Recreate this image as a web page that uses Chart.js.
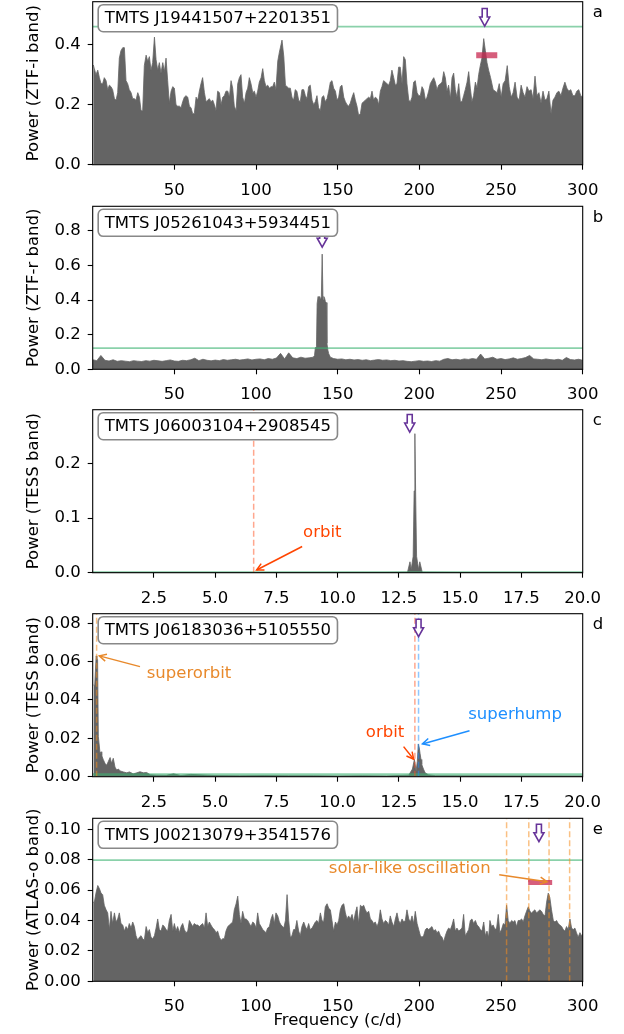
<!DOCTYPE html>
<html><head><meta charset="utf-8">
<script src="https://cdn.jsdelivr.net/npm/chart.js@4.4.0/dist/chart.umd.min.js"></script>
<style>
html,body{margin:0;padding:0;background:#fff;}
#wrap{position:relative;width:624px;height:1034px;overflow:hidden;}
canvas{position:absolute;left:0;}
</style></head><body><div id="wrap">
<canvas id="ca" width="624" height="204" style="top:0px"></canvas>
<canvas id="cb" width="624" height="204" style="top:204px"></canvas>
<canvas id="cc" width="624" height="204" style="top:408px"></canvas>
<canvas id="cd" width="624" height="204" style="top:612px"></canvas>
<canvas id="ce" width="624" height="238" style="top:796px"></canvas>
</div>
<script>
// ---------------- DATA ----------------
const names = ['TMTS J19441507+2201351','TMTS J05261043+5934451','TMTS J06003104+2908545','TMTS J06183036+5105550','TMTS J00213079+3541576'];
const yTitles = ['Power (ZTF-i band)','Power (ZTF-r band)','Power (TESS band)','Power (TESS band)','Power (ATLAS-o band)'];
const letters = ['a','b','c','d','e'];
const xTitle = 'Frequency (c/d)';

const xTicksWide = [50,100,150,200,250,300];
const xTicksNarrow = [2.5,5,7.5,10,12.5,15,17.5,20];
const yTicksA = [0,0.2,0.4];
const yTicksB = [0,0.2,0.4,0.6,0.8];
const yTicksC = [0,0.1,0.2];
const yTicksD = [0,0.02,0.04,0.06,0.08];
const yTicksE = [0,0.02,0.04,0.06,0.08,0.10];

const thresholds = [0.46, 0.122, 0.0008, 0.0012, 0.0797];
const markers = [[240,0.462],[140.5,0.705],[12.94,0.258],[13.3,0.073],[273.2,0.0918]];
const rangeA = [234.8, 247.7, 0.365];
const rangeE = [266.6, 281.3, 0.065];
const orbitC = [6.57];
const superorbitD = [0.16];
const orbitD = [13.15];
const superhumpD = [13.3];
const oscE = [253.4, 267.0, 279.4, 292.0];

// [frequency (c/d), power]
const specA = [[0.4,.332],[1,.32],[2,.30],[3.1,.315],[4.1,.29],[5.1,.27],[6.1,.27],[7.1,.29],[8.2,.28],[9.2,.25],[10.2,.265],[11.2,.26],[12.2,.25],[13.3,.22],[14.3,.215],[15.3,.24],[16.3,.355],[17.3,.38],[18.4,.39],[19.4,.39],[20.4,.28],[21.4,.27],[22.4,.25],[23.5,.24],[24.5,.22],[25.5,.22],[26.5,.215],[27.6,.24],[28.6,.225],[29.6,.18],[30.6,.18],[31.6,.33],[32.7,.365],[33.7,.345],[34.7,.36],[35.7,.315],[36.7,.34],[37.8,.425],[38.8,.35],[39.8,.315],[40.8,.34],[41.8,.305],[42.9,.34],[43.9,.31],[44.9,.355],[45.9,.28],[46.9,.205],[48,.245],[49,.26],[50,.255],[51,.2],[52,.195],[53.1,.195],[54.1,.19],[55.1,.21],[56.1,.225],[57.1,.23],[58.2,.225],[59.2,.195],[60.2,.19],[61.2,.17],[62.2,.17],[63.3,.225],[64.3,.215],[65.3,.245],[66.3,.27],[67.3,.29],[68.4,.24],[69.4,.21],[70.4,.215],[71.4,.22],[72.4,.21],[73.5,.215],[74.5,.2],[75.5,.18],[76.5,.245],[77.6,.24],[78.6,.2],[79.6,.225],[80.6,.23],[81.6,.245],[82.7,.245],[83.7,.225],[84.7,.28],[85.7,.255],[86.7,.195],[87.8,.18],[88.8,.27],[89.8,.29],[90.8,.3],[91.8,.225],[92.9,.205],[93.9,.24],[94.9,.255],[95.9,.29],[96.9,.27],[98,.24],[99,.245],[100,.225],[101,.245],[102,.275],[103.1,.29],[104.1,.32],[105.1,.28],[106.1,.26],[107.1,.265],[108.2,.255],[109.2,.26],[110.2,.26],[111.2,.275],[112.2,.25],[113.3,.345],[114.3,.375],[115.3,.40],[115.9,.415],[117,.36],[118,.265],[119,.26],[120,.255],[121,.255],[122,.225],[123,.215],[124,.25],[125,.245],[126.1,.215],[127.1,.21],[128.1,.25],[129.2,.25],[130.2,.23],[131.2,.22],[132.2,.26],[133.2,.265],[134.3,.215],[135.3,.2],[136.3,.21],[137.3,.23],[138.3,.19],[139.4,.18],[140.4,.225],[141.4,.23],[142.4,.21],[143.5,.22],[144.5,.245],[145.5,.275],[146.5,.28],[147.5,.255],[148.6,.245],[149.6,.215],[150.6,.225],[151.6,.26],[152.6,.265],[153.7,.225],[154.7,.21],[155.7,.2],[156.7,.195],[157.7,.205],[158.8,.225],[159.8,.24],[160.8,.215],[161.8,.195],[162.8,.165],[163.9,.17],[164.9,.205],[165.9,.21],[166.9,.215],[167.9,.22],[169,.225],[170,.22],[171,.245],[172,.215],[173,.225],[174.1,.22],[175.1,.2],[176.1,.245],[177.1,.26],[178.1,.28],[179.2,.275],[180.2,.27],[181.2,.265],[182.2,.28],[183.2,.315],[184.3,.29],[185.3,.265],[186.3,.27],[187.3,.325],[188.3,.325],[189.4,.27],[190.4,.36],[191.4,.35],[192.4,.27],[193.5,.215],[194.5,.21],[195.5,.225],[196.5,.275],[197.5,.28],[198.6,.24],[199.6,.23],[200.6,.23],[201.6,.26],[202.6,.25],[203.7,.215],[204.7,.225],[205.7,.245],[206.7,.27],[207.7,.28],[208.8,.29],[209.8,.275],[210.8,.25],[211.8,.265],[212.9,.27],[213.9,.275],[214.9,.31],[215.9,.29],[216.9,.245],[217.9,.265],[219,.22],[220,.29],[221,.305],[222,.25],[223,.225],[224.1,.27],[225.1,.21],[226.1,.21],[227.1,.23],[228.1,.25],[229.2,.275],[230.2,.31],[231.2,.255],[232.2,.21],[233.2,.23],[234.3,.275],[235.3,.255],[236.3,.3],[237.3,.33],[238.3,.355],[239.4,.42],[240.4,.38],[241.4,.34],[242.4,.315],[243.6,.29],[245.2,.25],[247.6,.24],[248.9,.27],[250.1,.225],[251.3,.27],[252.5,.28],[253.8,.33],[255,.26],[256.2,.225],[257.4,.24],[258.6,.275],[259.8,.225],[261.1,.215],[262.3,.265],[263.5,.24],[264.7,.225],[265.9,.26],[267.1,.245],[268.4,.25],[269.6,.22],[270.8,.295],[272,.23],[273.2,.24],[274.5,.205],[275.7,.245],[276.9,.215],[278.1,.22],[279.3,.245],[280.6,.17],[281.8,.215],[283,.225],[284.2,.24],[285.4,.245],[286.7,.23],[287.9,.255],[289.1,.275],[290.3,.255],[291.5,.245],[292.7,.25],[294,.23],[295.2,.23],[296.4,.245],[297.6,.25],[298.8,.23],[300,.225]];

const specB = [[0,.055],[2.5,.05],[5,.08],[7.5,.052],[10,.048],[12.5,.055],[15,.046],[17.5,.05],[20,.047],[22.5,.044],[25,.05],[27.5,.047],[30,.045],[32.5,.05],[35,.047],[37.5,.052],[40,.049],[42.5,.046],[45,.05],[47.5,.054],[50,.048],[52.5,.046],[55,.052],[57.5,.05],[60,.055],[62.5,.064],[65,.05],[67.5,.058],[70,.052],[72.5,.049],[75,.053],[77.5,.05],[80,.056],[82.5,.052],[85,.055],[87.5,.058],[90,.053],[92.5,.056],[95,.06],[97.5,.054],[100,.058],[102.5,.06],[105,.055],[107.5,.062],[110,.058],[112.5,.065],[115,.092],[117.5,.06],[120,.095],[122.5,.066],[125,.062],[127.5,.07],[130,.064],[132.5,.066],[135,.07],[135.8,.08],[136.3,.125],[137,.13],[137.4,.38],[138,.42],[138.5,.39],[139,.42],[139.5,.40],[140,.42],[140.5,.665],[141,.40],[141.5,.42],[142,.41],[142.5,.39],[143,.385],[143.4,.15],[144,.11],[144.5,.09],[145.5,.07],[147.5,.062],[150,.058],[152.5,.06],[155,.055],[157.5,.058],[160,.054],[162.5,.056],[165,.052],[167.5,.055],[170,.05],[172.5,.053],[175,.056],[177.5,.052],[180,.054],[182.5,.05],[185,.052],[187.5,.048],[190,.05],[192.5,.046],[195,.044],[197.5,.047],[200,.05],[202.5,.046],[205,.048],[207.5,.045],[210,.05],[212.5,.047],[215,.058],[217.5,.062],[220,.055],[222.5,.058],[225,.054],[227.5,.06],[230,.057],[232.5,.062],[235,.058],[237.5,.088],[240,.06],[242.5,.064],[245,.07],[247.5,.058],[250,.062],[252.5,.056],[255,.06],[257.5,.066],[260,.058],[262.5,.062],[265,.068],[267.5,.08],[270,.06],[272.5,.058],[275,.055],[277.5,.06],[280,.056],[282.5,.054],[285,.058],[287.5,.052],[290,.068],[292.5,.056],[295,.054],[297.5,.058],[300,.052]];

const specC = [[0,.0005],[3,.0005],[6,.0005],[9,.0005],[12,.0006],[12.85,.001],[12.95,.02],[13.0,.006],[13.08,.03],[13.12,.15],[13.15,.255],[13.18,.15],[13.22,.03],[13.3,.006],[13.35,.02],[13.45,.001],[15,.0005],[20,.0005]];

const specD = [[0.05,.048],[0.08,.047],[0.11,.055],[0.14,.063],[0.17,.062],[0.2,.061],[0.23,.021],[0.27,.016],[0.3,.012],[0.34,.013],[0.37,.011],[0.43,.009],[0.5,.007],[0.57,.006],[0.64,.008],[0.71,.010],[0.77,.007],[0.84,.0096],[0.91,.005],[0.98,.0035],[1.05,.004],[1.12,.003],[1.25,.0025],[1.39,.002],[1.5,.0025],[1.65,.0015],[1.8,.002],[1.93,.0026],[2.07,.002],[2.2,.0022],[2.35,.001],[2.6,.0008],[3.0,.0007],[3.3,.0015],[3.6,.0006],[4.0,.0012],[5,.0006],[6,.0005],[7,.0006],[8,.0005],[9,.0005],[10,.0004],[11,.0005],[12,.0004],[12.9,.0008],[13.05,.004],[13.13,.009],[13.2,.003],[13.25,.008],[13.29,.017],[13.33,.015],[13.36,.0122],[13.4,.009],[13.43,.0064],[13.5,.004],[13.57,.002],[13.7,.001],[14,.0005],[20,.0004]];

const specE = [[0.4,.052],[1,.052],[2,.058],[3.1,.063],[4.1,.061],[5.1,.058],[6.1,.057],[7.1,.05],[8.2,.047],[9.2,.045],[10.2,.034],[11.2,.046],[12.2,.038],[13.3,.045],[14.3,.039],[15.3,.041],[16.3,.045],[17.3,.038],[18.4,.037],[19.4,.033],[20.4,.036],[21.4,.034],[22.4,.038],[23.5,.035],[24.5,.039],[25.5,.036],[26.5,.03],[27.6,.027],[28.6,.029],[29.6,.03],[30.6,.028],[31.6,.027],[32.7,.036],[33.7,.032],[34.7,.034],[35.7,.029],[36.7,.028],[37.8,.03],[38.8,.035],[39.8,.041],[40.8,.034],[41.8,.033],[42.9,.037],[43.9,.036],[44.9,.034],[45.9,.033],[46.9,.04],[48,.044],[49,.033],[50,.038],[51,.033],[52,.036],[53.1,.032],[54.1,.036],[55.1,.038],[56.1,.034],[57.1,.032],[58.2,.033],[59.2,.04],[60.2,.038],[61.2,.036],[62.2,.038],[63.3,.037],[64.3,.037],[65.3,.036],[66.3,.037],[67.3,.038],[68.4,.035],[69.4,.045],[70.4,.036],[71.4,.039],[72.4,.037],[73.5,.035],[74.5,.034],[75.5,.032],[76.5,.033],[77.6,.029],[78.6,.027],[79.6,.028],[80.6,.028],[81.6,.033],[82.7,.036],[83.7,.037],[84.7,.038],[85.7,.039],[86.7,.047],[87.8,.051],[88.8,.056],[89.8,.044],[90.8,.038],[91.8,.046],[92.9,.041],[93.9,.041],[94.9,.04],[95.9,.038],[96.9,.036],[98,.039],[99,.038],[100,.035],[101,.045],[102,.038],[103.1,.036],[104.1,.034],[105.1,.033],[106.1,.032],[107.1,.035],[108.2,.036],[109.2,.041],[110.2,.044],[111.2,.038],[112.2,.045],[113.3,.043],[114.3,.039],[115.3,.037],[116.3,.036],[117,.035],[118,.04],[119,.057],[120,.04],[121,.029],[122,.03],[123,.034],[124,.034],[125,.04],[126.1,.033],[127.1,.03],[128.1,.036],[129.2,.039],[130.2,.036],[131.2,.034],[132.2,.038],[133.2,.034],[134.3,.035],[135.3,.037],[136.3,.039],[137.3,.04],[138.3,.038],[139.4,.045],[140.4,.04],[141.4,.039],[142.4,.049],[143.5,.051],[144.5,.048],[145.5,.047],[146.5,.04],[147.5,.033],[148.6,.039],[149.6,.037],[150.6,.04],[151.6,.047],[152.6,.05],[153.7,.051],[154.7,.045],[155.7,.041],[156.7,.043],[157.7,.041],[158.8,.044],[159.8,.039],[160.8,.045],[161.8,.049],[162.8,.038],[163.9,.05],[164.9,.049],[165.9,.05],[166.9,.047],[167.9,.045],[169,.046],[170,.041],[171,.04],[172,.038],[173,.039],[174.1,.036],[175.1,.039],[176.1,.047],[177.1,.041],[178.1,.038],[179.2,.04],[180.2,.039],[181.2,.037],[182.2,.043],[183.2,.039],[184.3,.036],[185.3,.041],[186.3,.045],[187.3,.04],[188.3,.038],[189.4,.041],[190.4,.039],[191.4,.04],[192.4,.047],[193.5,.041],[194.5,.039],[195.5,.043],[196.5,.038],[197.5,.046],[198.6,.038],[199.6,.034],[200.6,.03],[201.6,.029],[202.6,.03],[203.7,.034],[204.7,.035],[205.7,.034],[206.7,.035],[207.7,.036],[208.8,.033],[209.8,.034],[210.8,.032],[211.8,.033],[212.9,.03],[213.9,.029],[214.9,.026],[215.9,.03],[216.9,.033],[217.9,.035],[219,.034],[220,.037],[221,.041],[222,.033],[223,.035],[224.1,.033],[225.1,.034],[226.1,.035],[227.1,.044],[228.1,.03],[229.2,.032],[230.2,.034],[231.2,.04],[232.2,.041],[233.2,.038],[234.3,.04],[235.3,.037],[236.3,.036],[237.3,.034],[238.3,.033],[239.4,.039],[240.4,.03],[241.4,.033],[242.4,.029],[243.2,.04],[244.2,.036],[245.2,.037],[246.3,.034],[247.3,.035],[248.3,.044],[249.3,.032],[250.3,.034],[251.4,.038],[252.4,.037],[253.4,.05],[254.4,.04],[255.4,.038],[256.5,.04],[257.5,.039],[258.5,.04],[259.5,.036],[260.5,.04],[261.6,.04],[262.6,.041],[263.6,.039],[264.6,.043],[265.6,.046],[266.7,.049],[267.7,.046],[268.7,.045],[269.7,.046],[270.7,.047],[271.8,.045],[272.8,.046],[273.8,.047],[274.8,.046],[275.8,.044],[276.9,.043],[277.9,.052],[278.9,.058],[279.9,.055],[280.9,.047],[282,.04],[283,.039],[284,.04],[285,.038],[286,.037],[287.1,.036],[288.1,.034],[289.1,.033],[290.1,.036],[291.1,.034],[292.2,.041],[293.2,.035],[294.2,.034],[295.2,.035],[296.2,.032],[297.2,.029],[298.3,.032],[299.3,.03],[300,.031]];

// ---------------- STYLE ----------------
const FONT_SIZE = 16.5;
const FONT = FONT_SIZE + "px 'DejaVu Sans'";
const GRAY = '#646464';
const GREEN = 'rgba(60,179,113,0.6)';
const RED = 'rgba(200,40,80,0.75)';
const SALMON = 'rgba(255,80,30,0.5)';
const ORANGE = 'rgba(245,140,30,0.55)';
const BLUE = 'rgba(30,144,255,0.5)';
const PURPLE = '#663399';
const ORANGERED = '#ff4500';
const ORANGE_TXT = '#e8892b';
const BLUE_TXT = '#1e8fff';

Chart.defaults.font.family = "'DejaVu Sans', sans-serif";
Chart.defaults.font.size = FONT_SIZE;
Chart.defaults.color = '#000';

function drawMarker(ctx, x, y) {
  ctx.beginPath();
  ctx.moveTo(x, y);
  ctx.lineTo(x - 5, y - 9);
  ctx.lineTo(x - 2.5, y - 9);
  ctx.lineTo(x - 2.5, y - 17.5);
  ctx.lineTo(x + 2.5, y - 17.5);
  ctx.lineTo(x + 2.5, y - 9);
  ctx.lineTo(x + 5, y - 9);
  ctx.closePath();
  ctx.fillStyle = '#fff'; ctx.fill();
  ctx.strokeStyle = PURPLE; ctx.lineWidth = 1.6; ctx.lineJoin = 'miter'; ctx.stroke();
}

const deco = {
  id: 'deco',
  afterDatasetsDraw(chart, args, o) {
    const ctx = chart.ctx, a = chart.chartArea, xs = chart.scales.x, ys = chart.scales.y;
    ctx.save();
    (o.annots || []).forEach(an => {
      ctx.font = FONT; ctx.fillStyle = an.color; ctx.textAlign = 'center'; ctx.textBaseline = 'middle';
      ctx.fillText(an.text, xs.getPixelForValue(an.tx), ys.getPixelForValue(an.ty));
      const x0 = xs.getPixelForValue(an.from[0]), y0 = ys.getPixelForValue(an.from[1]);
      const x1 = xs.getPixelForValue(an.tip[0]), y1 = ys.getPixelForValue(an.tip[1]);
      ctx.strokeStyle = an.color; ctx.lineWidth = 1.5; ctx.lineCap = 'butt';
      ctx.beginPath(); ctx.moveTo(x0, y0); ctx.lineTo(x1, y1); ctx.stroke();
      const ang = Math.atan2(y1 - y0, x1 - x0), hl = 7, hw = 3.6;
      const c = Math.cos(ang), s = Math.sin(ang);
      ctx.beginPath();
      ctx.moveTo(x1 - hl * c + hw * s, y1 - hl * s - hw * c);
      ctx.lineTo(x1, y1);
      ctx.lineTo(x1 - hl * c - hw * s, y1 - hl * s + hw * c);
      ctx.stroke();
    });
    if (o.marker) drawMarker(ctx, xs.getPixelForValue(o.marker[0]), ys.getPixelForValue(o.marker[1]));
    ctx.strokeStyle = '#000'; ctx.lineWidth = 1.1;
    ctx.strokeRect(a.left, a.top, a.right - a.left, a.bottom - a.top);
    ctx.font = FONT;
    const tw = ctx.measureText(o.name).width;
    const bx = a.left + 5.5, by = a.top + 3, bw = tw + 13, bh = 27, r = 5;
    ctx.beginPath();
    ctx.moveTo(bx + r, by); ctx.lineTo(bx + bw - r, by); ctx.arcTo(bx + bw, by, bx + bw, by + r, r);
    ctx.lineTo(bx + bw, by + bh - r); ctx.arcTo(bx + bw, by + bh, bx + bw - r, by + bh, r);
    ctx.lineTo(bx + r, by + bh); ctx.arcTo(bx, by + bh, bx, by + bh - r, r);
    ctx.lineTo(bx, by + r); ctx.arcTo(bx, by, bx + r, by, r); ctx.closePath();
    ctx.fillStyle = '#fff'; ctx.fill();
    ctx.strokeStyle = '#888'; ctx.lineWidth = 1.6; ctx.stroke();
    ctx.fillStyle = '#000'; ctx.textAlign = 'left'; ctx.textBaseline = 'alphabetic';
    ctx.fillText(o.name, bx + 6.5, by + 18.5);
    ctx.fillText(o.letter, a.right + 10, a.top + 15.5);
    ctx.restore();
  }
};

function zeroPad(s) { s.paddingLeft = 0; s.paddingRight = 0; s.paddingTop = 0; s.paddingBottom = 0; }

function panel(id, p) {
  const ds = [];
  ds.push({ data: p.spec.map(q => ({ x: q[0], y: q[1] })), borderColor: GRAY, backgroundColor: GRAY,
    borderWidth: 0.8, pointRadius: 0, fill: 'origin', tension: 0, order: 10 });
  ds.push({ data: [{ x: p.xMin, y: p.threshold }, { x: p.xMax, y: p.threshold }], borderColor: GREEN,
    borderWidth: p.thrWidth || 1.8, pointRadius: 0, fill: false, order: 5 });
  (p.vlines || []).forEach(v => ds.push({ data: [{ x: v.x, y: 0 }, { x: v.x, y: p.yMax }], borderColor: v.color,
    borderWidth: 1.5, borderDash: [6, 3], pointRadius: 0, fill: false, order: 3 }));
  if (p.range) ds.push({ data: [{ x: p.range[0], y: p.range[2] }, { x: p.range[1], y: p.range[2] }],
    borderColor: RED, borderWidth: p.rangeWidth || 6, borderCapStyle: 'butt', pointRadius: 0, fill: false, order: 2 });
  const tickGrid = { display: true, drawOnChartArea: false, drawTicks: true, tickLength: 5, tickColor: '#000', tickWidth: 1.1 };
  new Chart(document.getElementById(id), {
    type: 'line',
    data: { datasets: ds },
    plugins: [deco],
    options: {
      responsive: false, animation: false, devicePixelRatio: 1, events: [],
      layout: { padding: { left: 0, right: 41.3, top: p.padTop, bottom: 0 } },
      plugins: { legend: { display: false }, tooltip: { enabled: false },
        deco: { name: p.name, letter: p.letter, marker: p.marker, annots: p.annots } },
      scales: {
        x: { type: 'linear', min: p.xMin, max: p.xMax,
          afterBuildTicks: s => { s.ticks = p.xTicks.map(v => ({ value: v })); },
          afterFit: s => { s.height = p.xAxisH; zeroPad(s); },
          ticks: { callback: v => p.xDec ? v.toFixed(p.xDec) : String(v), maxRotation: 0, autoSkip: false, padding: 11, color: '#000', font: { size: FONT_SIZE } },
          grid: tickGrid, border: { display: false },
          title: p.xTitle ? { display: true, text: p.xTitle, color: '#000', font: { size: FONT_SIZE }, padding: { top: 0, bottom: 3 } } : { display: false }
        },
        y: { type: 'linear', min: 0, max: p.yMax,
          afterBuildTicks: s => { s.ticks = p.yTicks.map(v => ({ value: v })); },
          afterFit: s => { s.width = 92.7; zeroPad(s); },
          ticks: { callback: v => v.toFixed(p.yDec), padding: 7, color: '#000', font: { size: FONT_SIZE } },
          grid: tickGrid, border: { display: false },
          title: { display: true, text: p.yTitle, color: '#000', font: { size: FONT_SIZE }, padding: { top: 24, bottom: 0 } }
        }
      }
    }
  });
}

panel('ca', { spec: specA, name: names[0], letter: letters[0], yTitle: yTitles[0], xMin: 0, xMax: 300, yMax: 0.543,
  xTicks: xTicksWide, yTicks: yTicksA, yDec: 1, threshold: thresholds[0], marker: markers[0], range: rangeA,
  padTop: 1.7, xAxisH: 39.3 });

panel('cb', { spec: specB, name: names[1], letter: letters[1], yTitle: yTitles[1], xMin: 0, xMax: 300, yMax: 0.941,
  xTicks: xTicksWide, yTicks: yTicksB, yDec: 1, threshold: thresholds[1], marker: markers[1],
  padTop: 2.3, xAxisH: 38.7 });

panel('cc', { spec: specC, name: names[2], letter: letters[2], yTitle: yTitles[2], xMin: 0, xMax: 20, yMax: 0.299,
  xTicks: xTicksNarrow, xDec: 1, yTicks: yTicksC, yDec: 1, threshold: thresholds[2], marker: markers[2],
  vlines: orbitC.map(x => ({ x, color: SALMON })),
  annots: [{ text: 'orbit', color: ORANGERED, tx: 9.37, ty: 0.0725, from: [8.55, 0.048], tip: [6.69, 0.005] }],
  padTop: 1.7, xAxisH: 39.3 });

panel('cd', { spec: specD, name: names[3], letter: letters[3], yTitle: yTitles[3], xMin: 0, xMax: 20, yMax: 0.085,
  xTicks: xTicksNarrow, xDec: 1, yTicks: yTicksD, yDec: 2, threshold: thresholds[3], thrWidth: 2.5, marker: markers[3],
  vlines: [...superorbitD.map(x => ({ x, color: ORANGE })), ...orbitD.map(x => ({ x, color: SALMON })), ...superhumpD.map(x => ({ x, color: BLUE }))],
  annots: [
    { text: 'superorbit', color: ORANGE_TXT, tx: 3.93, ty: 0.0536, from: [1.93, 0.0574], tip: [0.27, 0.063] },
    { text: 'orbit', color: ORANGERED, tx: 11.93, ty: 0.0231, from: [12.69, 0.0157], tip: [13.1, 0.0091] },
    { text: 'superhump', color: BLUE_TXT, tx: 17.24, ty: 0.0322, from: [15.38, 0.024], tip: [13.46, 0.0171] }
  ],
  padTop: 1.7, xAxisH: 39.3 });

panel('ce', { spec: specE, name: names[4], letter: letters[4], yTitle: yTitles[4], xMin: 0, xMax: 300, yMax: 0.1072,
  xTicks: xTicksWide, yTicks: yTicksE, yDec: 2, threshold: thresholds[4], marker: markers[4], range: rangeE, rangeWidth: 5,
  vlines: oscE.map(x => ({ x, color: ORANGE })),
  annots: [{ text: 'solar-like oscillation', color: ORANGE_TXT, tx: 194.1, ty: 0.0739, from: [248.9, 0.070], tip: [278.2, 0.0655] }],
  xTitle: xTitle, padTop: 22.3, xAxisH: 52.7 });
</script></body></html>
